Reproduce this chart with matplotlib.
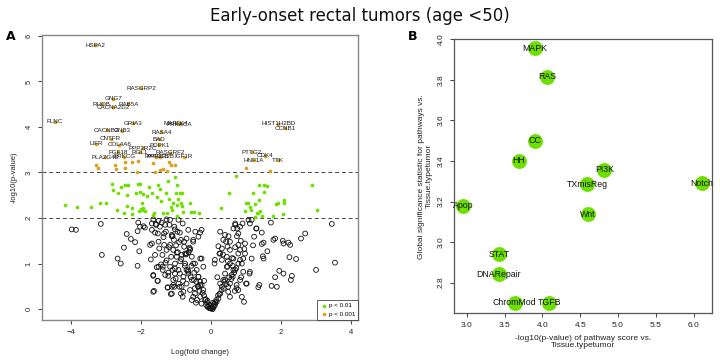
import matplotlib
matplotlib.use("Agg")
import matplotlib.pyplot as plt

plt.rcParams['font.family'] = ['Liberation Sans', 'DejaVu Sans']

# ---- panel A: volcano plot ----
# labelled genes (p < 0.001), label sits on top of its point
genes = ['HSPA2', 'RASGRP2', 'GNG7', 'RHOB', 'RAB5A', 'CACNA2D2', 'FLNC', 'GRIA3',
         'CACNB2', 'GNB3', 'CNTFR', 'LIFR', 'COL4A6', 'PPP2R2C', 'FGF18', 'PLA2G4E',
         'PRKCG', 'RGL1', 'PPP3CB', 'BAD', 'RASA4', 'PDPK1', 'MAP2K4', 'PRKACA',
         'PPP2R2B', 'RASGRF2', 'IGF1R', 'HIST1H2BD', 'CCNB1', 'PTTG2', 'CDK4',
         'HNF1A', 'TTK']
gene_fc = [-3.31, -2.00, -2.79, -3.12, -2.36, -2.79, -4.46, -2.24,
           -2.98, -2.55, -2.87, -3.29, -2.62, -1.94, -2.65, -3.02,
           -2.48, -2.03, -1.56, -1.49, -1.42, -1.48, -1.00, -0.90,
           -1.45, -1.17, -0.78, 1.92, 2.11, 1.16, 1.54,
           1.23, 1.92]
gene_p = [5.79, 4.85, 4.62, 4.50, 4.50, 4.43, 4.11, 4.08,
          3.93, 3.92, 3.74, 3.63, 3.61, 3.53, 3.44, 3.33,
          3.35, 3.44, 3.35, 3.73, 3.88, 3.60, 4.08, 4.06,
          3.34, 3.43, 3.34, 4.07, 3.97, 3.44, 3.37,
          3.27, 3.27]

# other p < 0.001 points without labels
orange_fc = [-3.29, -3.24, -2.74, -2.72, -2.46, -2.46, -2.25, -2.12, -2.10, -1.65,
             -1.60, -1.46, -1.36, -1.19, -1.14, -1.03, -1.27, 1.00, 1.69]
orange_p = [3.16, 3.09, 3.16, 3.08, 3.22, 3.09, 3.24, 3.00, 3.25, 3.20,
            3.00, 3.06, 3.07, 3.22, 3.16, 3.16, 3.03, 3.09, 3.03]

# p < 0.01 points
green_fc = [-4.17, -3.82, -3.44, -3.17, -3.01, -2.84, -2.81, -2.65, -2.58, -2.46,
            -2.41, -2.36, -2.68, -2.49, -2.39, -2.27, -2.25, -2.15, -2.10, -2.03,
            -2.03, -1.98, -1.98, -1.93, -2.06, -1.88, -1.93, -1.84, -1.77, -1.69,
            -1.63, -1.55, -1.52, -1.46, -1.43, -1.38, -1.29, -1.22, -1.19, -1.15,
            -1.08, -1.03, -1.00, -1.26, -1.12, -0.96, -0.93, -0.90, -0.84, -0.98,
            -0.86, -0.84, -0.79, -0.60, -0.57, -0.49, -0.33, -0.96, 0.70, 0.51,
            0.29, 1.00, 0.97, 1.11, 1.26, 1.38, 1.50, 1.59, 1.19, 1.52,
            1.38, 1.86, 1.90, 2.09, 2.09, 1.14, 1.30, 1.40, 1.35, 1.45,
            1.76, 2.07, 1.26, 2.88, 3.02, 1.07, -1.65, -2.00]
green_p = [2.29, 2.24, 2.25, 2.34, 2.34, 2.74, 2.62, 2.54, 2.69, 2.73,
           2.51, 2.73, 2.18, 2.12, 2.27, 2.08, 2.21, 2.54, 2.74, 2.74,
           2.58, 2.32, 2.18, 2.21, 2.15, 2.16, 2.53, 2.48, 2.69, 2.56,
           2.10, 2.47, 2.73, 2.63, 2.37, 2.10, 2.54, 2.81, 2.41, 2.24,
           2.32, 2.91, 2.54, 2.10, 2.18, 2.73, 2.41, 2.56, 2.56, 2.28,
           2.34, 2.26, 2.14, 2.34, 2.14, 2.14, 2.12, 2.04, 2.92, 2.54,
           2.21, 2.32, 2.15, 2.24, 2.30, 2.73, 2.73, 2.71, 2.56, 2.58,
           2.40, 2.30, 2.32, 2.40, 2.32, 2.18, 2.12, 2.15, 2.10, 2.04,
           2.04, 2.08, 2.02, 2.73, 2.18, 2.34, 2.07, 2.20]

# not significant
ns_fc = [-3.98, -3.86, -3.15, -3.12, -2.67, -2.58, -2.49, -2.41, -2.29, -2.17,
         -2.10, -2.08, -2.10, -2.05, -2.03, -1.89, -1.74, -1.69, -1.72, -1.69,
         -1.65, -1.63, -1.60, -1.58, -1.55, -1.53, -1.52, -1.50, -1.48, -1.46,
         -1.43, -1.39, -1.38, -1.36, -1.34, -1.31, -1.29, -1.27, -1.27, -1.24,
         -1.22, -1.20, -1.17, -1.15, -1.14, -1.12, -1.10, -1.08, -1.06, -1.05,
         -1.03, -1.01, -0.98, -0.96, -0.93, -0.91, -0.90,
         -1.93, -1.69, -1.65, -1.57, -1.60, -1.50, -1.41, -1.34, -1.27, -1.19,
         -1.12, -1.03, -0.93, -0.89, -0.86, -0.81, -0.77, -0.70, -0.65, -0.60,
         -0.55, -0.51, -0.46, -0.41, -0.36, -0.31, -0.27, -0.55, -0.65, -0.74,
         -0.89, -1.03, -0.98, -1.08, -1.17, -0.84, -0.70, -0.36, -0.31, -0.22,
         -0.46,
         0.21, 0.26, 0.31, 0.35, 0.43, 0.47, 0.54, 0.59, 0.64, 0.69,
         0.73, 0.78, 0.83, 0.88, 0.92, 0.97, 0.69, 0.75, 0.83, 0.78,
         0.90, 0.26, 0.40, 0.49,
         1.16, 1.30, 1.71, 1.45, 1.23, 1.83, 1.78, 1.50, 1.45, 2.05,
         2.07, 2.21, 2.26, 2.57, 2.69, 3.45, 1.61, 1.48, 1.50, 1.16,
         2.24, 2.43, 3.54, 3.00, 1.95, 2.07, 2.31, 1.83, 2.28, 1.38,
         1.35, 1.73, 1.88,
         -1.65, -1.65, -1.52, -1.50, -1.38, -1.24, -1.12, -1.05, -1.12, -1.08,
         -1.03, -0.93, -0.86, -0.81, -0.79, -0.70, -0.65, -0.60, -0.55, -0.49,
         -0.46, -0.43, -0.36, -0.31, -0.27, -0.22, -0.17, -0.14, -0.10, -0.05,
         0.00, 0.03, 0.07, 0.11, 0.16, 0.21, 0.26, 0.31, 0.35, 0.40,
         0.45, 0.49, 0.54, 0.62, 0.69, 0.73, 0.78, 0.83, 0.94, 1.00,
         1.10, -1.17, -1.31,
         -0.51, -0.60, -0.74, -0.51, -0.27, -0.36, -0.31, -0.27, -0.31, -0.77,
         -0.70, -0.84, -0.79, -0.51,
         0.47, 0.54, 0.64, 0.69, 0.31, 0.24, 0.11, 0.10, 0.45, 0.54,
         0.64, 0.78, 0.83, 0.97, 0.92, 1.02, 1.11, 0.78, 0.88, 0.54,
         0.26, 0.40, 1.11, 1.07, 1.29,
         -0.20, 0.20, -0.12, 0.12, -0.08, 0.08, -0.03, 0.05, -0.06, 0.10,
         -0.15, 0.15, -0.24, 0.24, -0.38, 0.36, -0.02, 0.02, -0.10, 0.06,
         -0.33, 0.30, -0.42, 0.44, -0.58, 0.58, -0.66, 0.66, -0.75, 0.72,
         -0.85, -0.95, -1.00, -0.80, -0.88, -0.72, -0.62, -1.10, -1.22, -1.30,
         -0.40, -0.48, -0.56, -0.64, -0.45, -0.20, 0.18, 0.34, 0.50, 0.60,
         0.38, 0.52, 0.68, 0.86, 0.95, 0.48, 0.62, 0.74, 0.85, 1.20]
ns_p = [1.75, 1.74, 1.87, 1.19, 1.11, 1.00, 1.35, 1.65, 1.54, 1.47,
        1.71, 1.90, 0.95, 1.27, 1.81, 1.79, 1.41, 1.74, 1.09, 1.44,
        0.73, 0.40, 1.19, 1.87, 0.92, 0.62, 1.66, 1.48, 1.33, 1.81,
        0.98, 1.19, 0.86, 1.58, 1.41, 1.85, 1.70, 1.30, 1.07, 0.48,
        0.73, 1.36, 1.96, 0.33, 1.15, 1.63, 0.86, 0.53, 1.52, 1.81,
        1.00, 0.67, 1.24, 1.70, 0.86, 1.47, 0.49,
        1.82, 1.88, 1.97, 1.85, 1.68, 1.94, 1.90, 1.66, 1.97, 1.85,
        1.60, 1.75, 1.96, 1.68, 1.52, 1.88, 1.37, 1.55, 1.74, 1.30,
        1.15, 1.48, 1.00, 0.86, 0.71, 0.60, 0.53, 0.64, 0.82, 1.00,
        0.78, 0.89, 1.15, 1.30, 1.41, 1.19, 1.22, 1.59, 1.11, 0.93,
        0.46,
        1.38, 1.22, 1.08, 1.52, 1.48, 0.93, 1.30, 0.75, 1.11, 1.36,
        0.53, 1.41, 1.30, 1.00, 0.82, 1.22, 1.88, 1.77, 1.81, 1.66,
        1.88, 0.56, 0.64, 0.49,
        1.96, 1.77, 1.90, 1.68, 1.59, 1.55, 1.52, 1.46, 1.43, 1.50,
        1.44, 1.46, 1.41, 1.55, 1.66, 1.87, 1.27, 1.16, 1.11, 1.11,
        1.14, 1.10, 1.02, 0.86, 0.84, 0.78, 0.73, 0.70, 0.64, 0.53,
        0.48, 0.51, 0.49,
        0.75, 0.38, 0.62, 0.93, 0.93, 0.47, 0.49, 0.49, 0.34, 0.64,
        0.78, 0.56, 0.34, 0.27, 0.71, 0.56, 0.78, 0.42, 0.20, 0.64,
        0.34, 0.14, 0.49, 0.27, 0.12, 0.42, 0.20, 0.09, 0.05, 0.02,
        0.01, 0.02, 0.05, 0.09, 0.16, 0.23, 0.34, 0.49, 0.64, 0.78,
        0.93, 0.38, 0.56, 0.71, 0.86, 0.46, 1.00, 0.64, 0.16, 0.56,
        0.78, 0.93, 0.75,
        1.52, 1.33, 1.22, 1.00, 1.11, 0.71, 0.53, 1.74, 1.68, 1.48,
        0.86, 0.49, 0.38, 0.27,
        1.37, 1.48, 1.77, 1.85, 1.33, 1.22, 1.08, 1.00, 1.15, 1.00,
        0.86, 1.22, 1.08, 1.44, 1.11, 0.56, 0.82, 0.42, 0.27, 0.27,
        1.70, 1.63, 1.88, 1.96, 1.77,
        0.30, 0.30, 0.15, 0.15, 0.06, 0.06, 0.03, 0.00, 0.10, 0.12,
        0.22, 0.20, 0.36, 0.33, 0.50, 0.45, 0.08, 0.04, 0.18, 0.14,
        0.40, 0.42, 0.60, 0.55, 0.70, 0.66, 0.85, 0.80, 0.95, 0.90,
        1.10, 1.25, 1.40, 0.62, 1.05, 1.20, 1.35, 1.60, 0.80, 1.02,
        0.20, 0.80, 0.95, 1.25, 1.70, 0.62, 0.70, 1.20, 1.60, 1.12,
        0.60, 0.70, 0.40, 0.70, 1.32, 1.05, 0.95, 1.60, 1.50, 1.40]

# ---- panel B: pathway scores ----
pathways = ['MAPK', 'RAS', 'CC', 'HH', 'PI3K', 'TXmisReg', 'Notch', 'Apop',
            'Wnt', 'STAT', 'DNARepair', 'ChromMod', 'TGFB']
path_logp = [3.90, 4.06, 3.90, 3.69, 4.82, 4.59, 6.11, 2.955, 4.60, 3.43, 3.42, 3.63, 4.09]
path_stat = [3.956, 3.816, 3.50, 3.40, 3.356, 3.286, 3.29, 3.18, 3.138, 2.94, 2.84, 2.70, 2.70]

green = '#6EE000'
orange = '#D9A11E'
label_col = '#1a1a1a'

fig = plt.figure(figsize=(7.2, 3.6), dpi=100)
fig.text(0.5, 0.955, 'Early-onset rectal tumors (age <50)', ha='center', va='center',
         fontsize=12, family='DejaVu Sans', color='#111111')

# panel A
ax = fig.add_axes([0.0583, 0.111, 0.439, 0.792])
ax.scatter(ns_fc, ns_p, s=12, facecolors='none', edgecolors='#111111', linewidths=0.6, zorder=2)
ax.scatter(green_fc, green_p, s=7, color=green, linewidths=0, zorder=3)
ax.scatter(orange_fc, orange_p, s=7, color=orange, linewidths=0, zorder=3)
ax.scatter(gene_fc, gene_p, s=7, color=orange, linewidths=0, zorder=3)
for g, x, y in zip(genes, gene_fc, gene_p):
    ax.text(x, y, g, fontsize=4.5, ha='center', va='center', color=label_col, zorder=4)
ax.axhline(2, color='#444444', lw=0.7, ls=(0, (4, 3)), zorder=1)
ax.axhline(3, color='#444444', lw=0.7, ls=(0, (4, 3)), zorder=1)
ax.set_xlim(-4.83, 4.2)
ax.set_ylim(-0.24, 6.02)
ax.set_xticks([-4, -2, 0, 2, 4])
ax.set_yticks([0, 1, 2, 3, 4, 5, 6])
ax.tick_params(labelsize=5.5, length=3, width=0.6, colors='#222222')
for lab in ax.get_yticklabels():
    lab.set_rotation(90)
    lab.set_va('center')
for sp in ax.spines.values():
    sp.set_color('#888888')
    sp.set_linewidth(1.0)
ax.set_xlabel('Log(fold change)', fontsize=5.5, labelpad=9, color='#222222')
ax.set_ylabel('-log10(p-value)', fontsize=5.5, labelpad=6, color='#222222')
h1 = ax.scatter([], [], s=7, color=green, linewidths=0)
h2 = ax.scatter([], [], s=7, color=orange, linewidths=0)
leg = ax.legend([h1, h2], ['p < 0.01', 'p < 0.001'], loc='lower right', fontsize=4.5,
                frameon=True, fancybox=False, borderaxespad=0, handletextpad=0.3,
                borderpad=0.5, labelspacing=0.5, handlelength=1.0)
leg.get_frame().set_edgecolor('#333333')
leg.get_frame().set_linewidth(0.7)
fig.text(0.008, 0.89, 'A', fontsize=9, fontweight='bold', family='DejaVu Sans')

# panel B
bx = fig.add_axes([0.6306, 0.1306, 0.358, 0.760])
bx.scatter(path_logp, path_stat, s=115, color=green, linewidths=0, zorder=2)
for p, x, y in zip(pathways, path_logp, path_stat):
    bx.text(x, y, p, fontsize=6.3, ha='center', va='center', color='#111111', zorder=3)
bx.set_xlim(2.83, 6.24)
bx.set_ylim(2.65, 4.0)
bx.set_xticks([3.0, 3.5, 4.0, 4.5, 5.0, 5.5, 6.0])
bx.set_yticks([2.8, 3.0, 3.2, 3.4, 3.6, 3.8, 4.0])
bx.set_xticklabels(['3.0', '3.5', '4.0', '4.5', '5.0', '5.5', '6.0'])
bx.set_yticklabels(['2.8', '3.0', '3.2', '3.4', '3.6', '3.8', '4.0'])
bx.tick_params(labelsize=6, length=3, width=0.6, colors='#222222')
for lab in bx.get_yticklabels():
    lab.set_rotation(90)
    lab.set_va('center')
for sp in bx.spines.values():
    sp.set_color('#555555')
    sp.set_linewidth(0.9)
bx.set_xlabel('-log10(p-value) of pathway score vs.\nTissue.typetumor', fontsize=6,
              labelpad=4, color='#222222', linespacing=1.1)
bx.set_ylabel('Global significance statistic for pathways vs.\nTissue.typetumor', fontsize=6,
              labelpad=4, color='#222222', linespacing=1.1)
fig.text(0.566, 0.89, 'B', fontsize=9, fontweight='bold', family='DejaVu Sans')

fig.savefig('out.png', dpi=100)
